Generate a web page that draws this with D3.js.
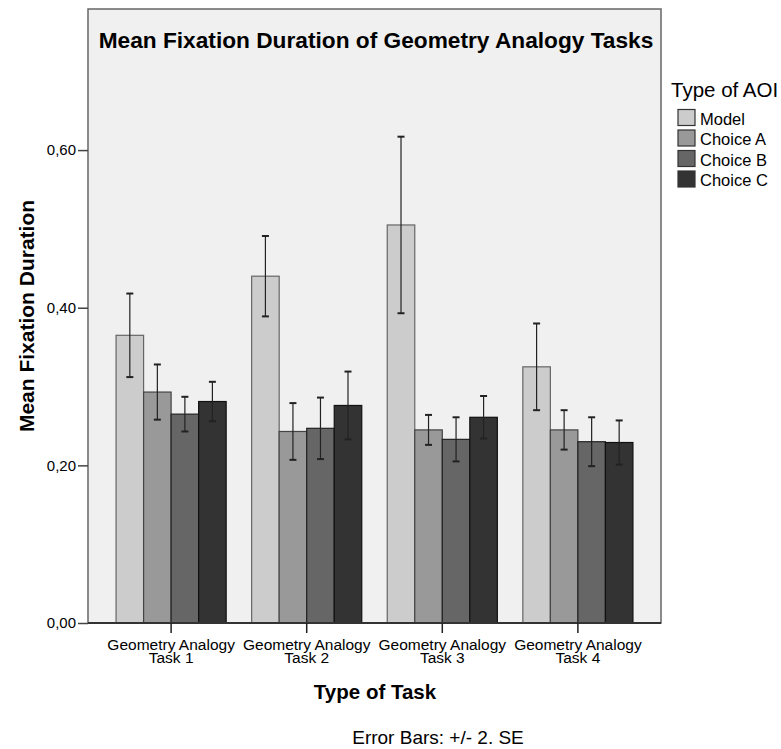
<!DOCTYPE html>
<html lang="en">
<head>
  <meta charset="utf-8">
  <script src="https://d3js.org/d3.v7.min.js"></script>
  <style>
    body { margin: 0; background: #fff; }
    text { font-family: "Liberation Sans", Arial, sans-serif; fill: #000; }
  </style>
</head>
<body>
<script>
  var width = 781,
      height = 749;

  // data
  var tasks = ["Geometry Analogy Task 1", "Geometry Analogy Task 2", "Geometry Analogy Task 3", "Geometry Analogy Task 4"];
  var aois = ["Model", "Choice A", "Choice B", "Choice C"];
  var meanModel   = [0.365, 0.440, 0.505, 0.325];
  var meanChoiceA = [0.293, 0.243, 0.245, 0.245];
  var meanChoiceB = [0.265, 0.247, 0.233, 0.230];
  var meanChoiceC = [0.281, 0.276, 0.261, 0.229];
  // +/- 2 SE
  var errModel   = [0.053, 0.051, 0.112, 0.055];
  var errChoiceA = [0.035, 0.036, 0.019, 0.025];
  var errChoiceB = [0.022, 0.039, 0.028, 0.031];
  var errChoiceC = [0.025, 0.043, 0.027, 0.028];
  var yTicks = [0, 0.2, 0.4, 0.6];
  var fills = ["#cccccc", "#999999", "#666666", "#333333"];
  var strokes = ["#666666", "#444444", "#222222", "#111111"];

  var means = [meanModel, meanChoiceA, meanChoiceB, meanChoiceC];
  var errs = [errModel, errChoiceA, errChoiceB, errChoiceC];

  var rows = [];
  tasks.forEach(function(t, i) {
    aois.forEach(function(a, j) {
      rows.push({task: t, aoi: a, k: j, value: means[j][i], err: errs[j][i]});
    });
  });

  var plotLeft = 88, plotRight = 661, plotTop = 9, plotBottom = 623;
  var font = '"Liberation Sans", Arial, sans-serif';

  var svg = d3.select('body')
    .append('svg')
    .attr('width', width)
    .attr('height', height);

  var x = d3.scaleBand()
    .domain(tasks)
    .range([plotLeft, plotRight])
    .paddingInner(0.188)
    .paddingOuter(0.207);

  var xi = d3.scaleBand()
    .domain(aois)
    .range([0, x.bandwidth()]);

  var y = d3.scaleLinear()
    .domain([0, 0.779])
    .range([plotBottom, plotTop]);

  // plot background
  svg.append('rect')
    .attr('x', plotLeft).attr('y', plotTop)
    .attr('width', plotRight - plotLeft).attr('height', plotBottom - plotTop)
    .attr('fill', '#f0f0f0')
    .attr('stroke', '#666')
    .attr('stroke-width', 1.5);

  // bars
  svg.append('g')
    .selectAll('rect')
    .data(rows)
    .join('rect')
    .attr('x', function(d) { return x(d.task) + xi(d.aoi); })
    .attr('y', function(d) { return y(d.value); })
    .attr('width', xi.bandwidth())
    .attr('height', function(d) { return y(0) - y(d.value); })
    .attr('fill', function(d) { return fills[d.k]; })
    .attr('stroke', function(d) { return strokes[d.k]; })
    .attr('stroke-width', 1.2);

  // error bars
  var eb = svg.append('g')
    .attr('stroke', '#222')
    .attr('stroke-width', 1.2)
    .selectAll('g')
    .data(rows)
    .join('g')
    .attr('transform', function(d) {
      return 'translate(' + (x(d.task) + xi(d.aoi) + xi.bandwidth() / 2) + ',0)';
    });
  eb.append('line')
    .attr('y1', function(d) { return y(d.value + d.err); })
    .attr('y2', function(d) { return y(d.value - d.err); });
  eb.append('line')
    .attr('x1', -3.5).attr('x2', 3.5)
    .attr('y1', function(d) { return y(d.value + d.err); })
    .attr('y2', function(d) { return y(d.value + d.err); })
    .attr('stroke-width', 2);
  eb.append('line')
    .attr('x1', -3.5).attr('x2', 3.5)
    .attr('y1', function(d) { return y(d.value - d.err); })
    .attr('y2', function(d) { return y(d.value - d.err); })
    .attr('stroke-width', 2);

  // y axis
  var yAxis = svg.append('g')
    .attr('transform', 'translate(' + plotLeft + ',0)')
    .call(d3.axisLeft(y).tickValues(yTicks).tickSize(10).tickPadding(2)
      .tickFormat(function(d) { return d3.format('.2f')(d).replace('.', ','); }));
  yAxis.select('.domain').remove();
  yAxis.selectAll('.tick line').attr('stroke', '#444').attr('stroke-width', 1.5);
  yAxis.selectAll('.tick text')
    .style('font-family', font)
    .style('font-size', '15px')
    .attr('fill', '#222');

  // x axis
  var xAxis = svg.append('g')
    .attr('transform', 'translate(0,' + plotBottom + ')')
    .call(d3.axisBottom(x).tickSize(10).tickFormat(''));
  xAxis.select('.domain')
    .attr('d', 'M' + plotLeft + ',0H' + plotRight)
    .attr('stroke', '#333').attr('stroke-width', 2);
  xAxis.selectAll('.tick line').attr('stroke', '#222').attr('stroke-width', 1.5);
  xAxis.selectAll('.tick').each(function(d) {
    var g = d3.select(this);
    g.append('text')
      .attr('x', 0).attr('y', 27)
      .attr('text-anchor', 'middle')
      .style('font-size', '15.5px')
      .style('font-family', font)
      .attr('fill', '#222')
      .text('Geometry Analogy');
    g.append('text')
      .attr('x', 0).attr('y', 40)
      .attr('text-anchor', 'middle')
      .style('font-size', '15.5px')
      .style('font-family', font)
      .attr('fill', '#222')
      .text(d.replace('Geometry Analogy ', ''));
  });

  // title
  svg.append('text')
    .attr('x', 376)
    .attr('y', 48)
    .attr('text-anchor', 'middle')
    .style('font-size', '22.7px')
    .style('font-weight', 'bold')
    .text('Mean Fixation Duration of Geometry Analogy Tasks');

  // axis titles
  svg.append('text')
    .attr('transform', 'translate(34,316) rotate(-90)')
    .attr('text-anchor', 'middle')
    .style('font-size', '21px')
    .style('font-weight', 'bold')
    .text('Mean Fixation Duration');

  svg.append('text')
    .attr('x', 375)
    .attr('y', 699)
    .attr('text-anchor', 'middle')
    .style('font-size', '20.5px')
    .style('font-weight', 'bold')
    .text('Type of Task');

  svg.append('text')
    .attr('x', 438)
    .attr('y', 744)
    .attr('text-anchor', 'middle')
    .style('font-size', '19px')
    .attr('fill', '#222')
    .text('Error Bars: +/- 2. SE');

  // legend
  var legend = svg.append('g');
  legend.append('text')
    .attr('x', 671).attr('y', 97)
    .style('font-size', '20.5px')
    .attr('fill', '#222')
    .text('Type of AOI');
  var li = legend.selectAll('g')
    .data(aois)
    .join('g')
    .attr('transform', function(d, i) { return 'translate(678,' + (109.5 + i * 20.5) + ')'; });
  li.append('rect')
    .attr('width', 17).attr('height', 16)
    .attr('fill', function(d, i) { return fills[i]; })
    .attr('stroke', '#333')
    .attr('stroke-width', 1.2);
  li.append('text')
    .attr('x', 22).attr('y', 15)
    .style('font-size', '16.5px')
    .attr('fill', '#222')
    .text(function(d) { return d; });
</script>
</body>
</html>
